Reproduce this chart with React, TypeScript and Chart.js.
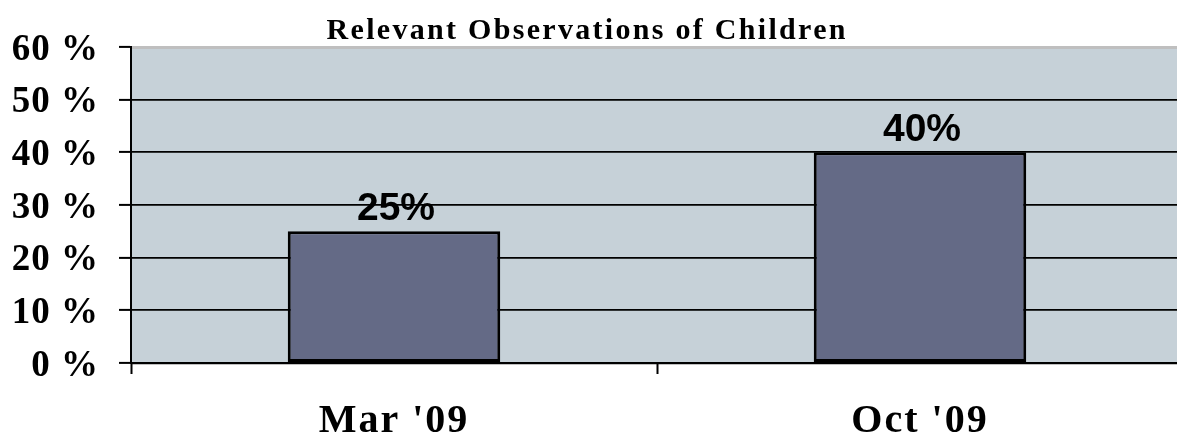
import React, { useEffect, useRef } from "react";
import { Chart, registerables } from "chart.js";

Chart.register(...registerables);

const chartTitle = "Relevant Observations of Children";
const categories = ["Mar '09", "Oct '09"];
const observedShare = [25, 40];
const valueLabels = ["25%", "40%"];
const yTickValues = [0, 10, 20, 30, 40, 50, 60];
const yTickLabels = ["0 %", "10 %", "20 %", "30 %", "40 %", "50 %", "60 %"];

const serif = "'Liberation Serif', 'Times New Roman', serif";
const sans = "'Liberation Sans', Arial, sans-serif";

function drawLabel(
  ctx: CanvasRenderingContext2D,
  text: string,
  x: number,
  y: number,
  font: string,
  spacing: number,
  align: CanvasTextAlign
) {
  ctx.save();
  (ctx as any).letterSpacing = spacing + "px";
  ctx.font = font;
  ctx.fillStyle = "#000";
  ctx.textBaseline = "alphabetic";
  const w = ctx.measureText(text).width - spacing;
  let left = x;
  if (align === "center") left = x - w / 2;
  else if (align === "right") left = x - w;
  ctx.textAlign = "left";
  ctx.fillText(text, left, y);
  ctx.restore();
}

const plotPlugin = {
  id: "plotLook",
  afterLayout(chart: any) {
    // the plot area runs a little past the right edge of the picture
    const extra = 6;
    chart.chartArea.right += extra;
    chart.chartArea.width += extra;
    const x = chart.scales.x;
    x.right += extra;
    x.width += extra;
    x.configure();
    chart.scales.y.configure();
  },
  beforeDraw(chart: any) {
    const { ctx, chartArea } = chart;
    ctx.save();
    ctx.fillStyle = "#c6d1d8";
    ctx.fillRect(chartArea.left, chartArea.top, chartArea.right - chartArea.left, chartArea.bottom - chartArea.top);
    ctx.fillStyle = "#bfbfbf";
    ctx.fillRect(chartArea.left, chartArea.top - 1, chartArea.right - chartArea.left, 3);
    ctx.fillRect(chartArea.left, chartArea.bottom, chartArea.right - chartArea.left, 2);
    ctx.restore();
  },
  afterDatasetsDraw(chart: any) {
    const { ctx } = chart;
    const meta = chart.getDatasetMeta(0);
    meta.data.forEach((bar: any, i: number) => {
      drawLabel(ctx, valueLabels[i], bar.x + 2, bar.y - 11, `bold 39px ${sans}`, 0, "center");
    });
  },
  afterDraw(chart: any) {
    const { ctx, scales } = chart;
    drawLabel(ctx, chartTitle, 586, 39, `bold 30px ${serif}`, 2.3, "center");
    yTickValues.forEach((v, i) => {
      const y = scales.y.getPixelForValue(v);
      drawLabel(ctx, yTickLabels[i], 98, y + 12.5, `bold 37px ${serif}`, 1, "right");
    });
    categories.forEach((c, i) => {
      const x = scales.x.getPixelForValue(i);
      drawLabel(ctx, c, x - 1, 432, `bold 40px ${serif}`, 2, "center");
    });
  },
};

export default function App() {
  const canvasRef = useRef<HTMLCanvasElement | null>(null);

  useEffect(() => {
    document.body.style.margin = "0";
    const canvas = canvasRef.current!;
    const chart = new Chart(canvas, {
      type: "bar",
      data: {
        labels: categories,
        datasets: [
          {
            data: observedShare,
            backgroundColor: "#646a86",
            borderColor: "#000000",
            borderWidth: 3,
            borderSkipped: false,
            categoryPercentage: 1,
            barPercentage: 0.404,
          },
        ],
      },
      options: {
        animation: false,
        responsive: false,
        maintainAspectRatio: false,
        layout: { padding: { left: 0, right: 0, top: 47, bottom: 0 } },
        plugins: {
          legend: { display: false },
          tooltip: { enabled: false },
          title: { display: false },
        },
        scales: {
          x: {
            offset: true,
            grid: {
              offset: true,
              drawOnChartArea: false,
              drawTicks: true,
              tickLength: 11,
              tickColor: "#000",
              tickWidth: 2,
            },
            border: { display: true, color: "#000", width: 2 },
            ticks: { display: false },
            afterFit(scale: any) {
              scale.height = 77;
            },
          },
          y: {
            min: 0,
            max: 60,
            ticks: { display: false, stepSize: 10 },
            grid: {
              color: (c: any) =>
                c.tick && (c.tick.value === 0 || c.tick.value === 60) ? "rgba(0,0,0,0)" : "#000",
              lineWidth: 1.8,
              tickLength: 12,
              tickColor: "#000",
              tickWidth: 2,
            },
            border: { display: true, color: "#000", width: 2 },
            afterFit(scale: any) {
              scale.width = 131;
            },
          },
        },
      },
      plugins: [plotPlugin],
    });
    return () => chart.destroy();
  }, []);

  return (
    <div style={{ width: 1177, height: 440 }}>
      <canvas ref={canvasRef} width={1177} height={440} style={{ display: "block" }} />
    </div>
  );
}
